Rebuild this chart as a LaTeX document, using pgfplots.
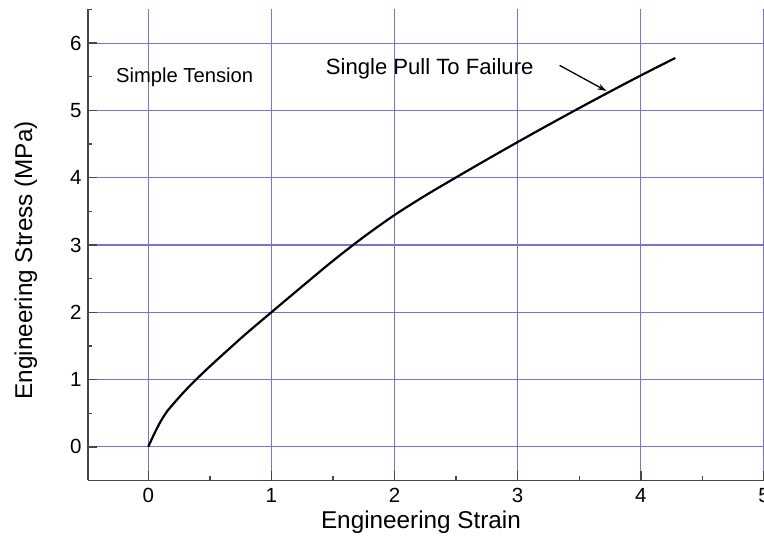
\documentclass[border=0pt]{standalone}
\usepackage{pgfplots}
\pgfplotsset{compat=1.18}
\usepackage{fontspec}
\setmainfont{Liberation Sans}
\usetikzlibrary{arrows.meta}
\definecolor{gridblue}{RGB}{118,118,205}
\definecolor{axgray}{RGB}{70,70,70}
\begin{document}
\begin{tikzpicture}
\begin{axis}[
  name=ax,
  scale only axis,
  width=676bp, height=471bp,
  xmin=-0.489, xmax=5, ymin=-0.5, ymax=6.5,
  axis lines*=left,
  axis line style={line width=1.8bp, axgray},
  xtick={0,1,2,3,4,5}, ytick={0,1,2,3,4,5,6},
  minor xtick={0.5,1.5,2.5,3.5,4.5},
  minor ytick={-0.5,0.5,1.5,2.5,3.5,4.5,5.5,6.5},
  tick align=inside,
  major tick length=9bp, minor tick length=4.5bp,
  every tick/.style={line width=1.4bp, axgray},
  xmajorgrids, ymajorgrids,
  major grid style={gridblue, line width=1.1bp},
  /pgf/number format/assume math mode=true,
  tick label style={font=\fontsize{20.5bp}{22bp}\selectfont, text=black},
  xticklabel style={yshift=-4bp},
  yticklabel style={xshift=-3bp},
  xlabel={Engineering Strain},
  ylabel={Engineering Stress (MPa)},
  label style={font=\fontsize{24.3bp}{28bp}\selectfont},
  xlabel style={at={(axis description cs:0.4926,-0.1025)}, anchor=base},
  ylabel style={at={(axis description cs:-0.092,0.4675)}, anchor=center, rotate=0},
  clip=false,
]
\addplot[black, line width=2.2bp, smooth, tension=0.5] coordinates {
(0,0) (0.03,0.12) (0.06,0.235) (0.1,0.375) (0.15,0.52) (0.2,0.63)
(0.25,0.735) (0.3,0.835) (0.38,0.985) (0.5,1.195) (0.65,1.445) (0.8,1.69)
(1.0,2.0) (1.25,2.385) (1.5,2.765) (1.75,3.12) (2.0,3.445) (2.25,3.735)
(2.5,4.005) (2.75,4.27) (3.0,4.53) (3.25,4.785) (3.5,5.035) (3.75,5.28)
(4.0,5.52) (4.28,5.78)
};
\node[anchor=base west, inner sep=0pt, font=\fontsize{20.2bp}{23bp}\selectfont] at (axis cs:-0.262,5.42) {Simple Tension};
\node[anchor=base west, inner sep=0pt, font=\fontsize{22.1bp}{25bp}\selectfont] at (axis cs:1.441,5.54) {Single Pull To Failure};
\draw[-{Stealth[length=9bp,width=6bp]}, line width=1.3bp] (axis cs:3.34,5.67) -- (axis cs:3.72,5.29);
\end{axis}
\pgfresetboundingbox
\path ([xshift=-88bp,yshift=-58.3bp]ax.south west) rectangle ([yshift=9.5bp]ax.north east);
\end{tikzpicture}
\end{document}
